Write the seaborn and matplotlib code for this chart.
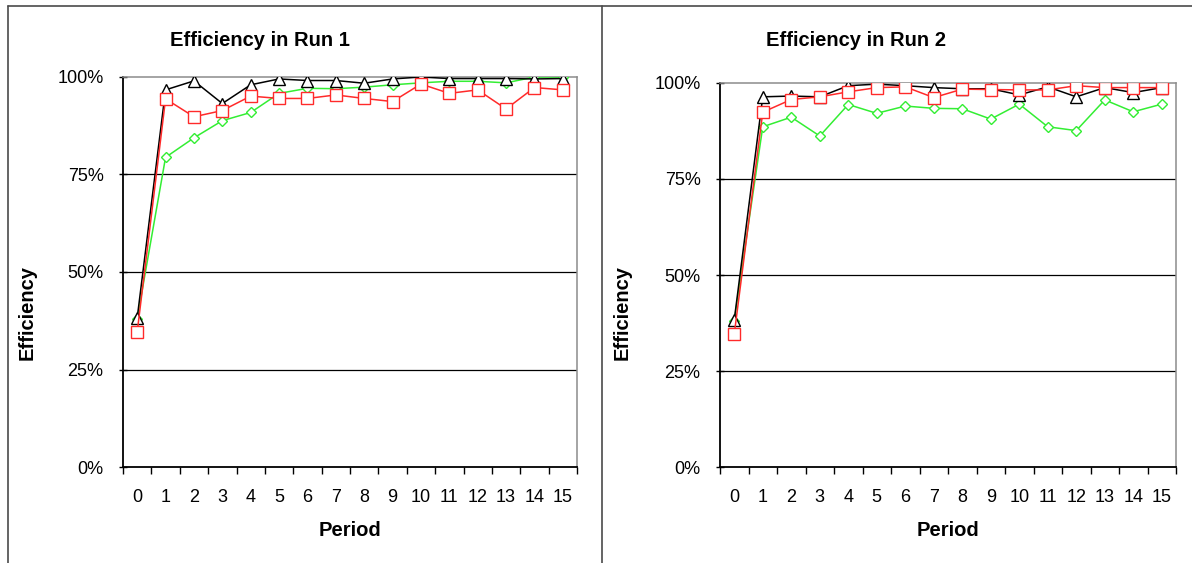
import matplotlib
matplotlib.use("Agg")
import matplotlib.pyplot as plt
import seaborn as sns
import pandas as pd
from matplotlib.lines import Line2D

# ---- data ----
periods = list(range(16))

run1_black = [38.2, 96.7, 99.0, 93.2, 98.0, 99.5, 99.1, 99.1, 98.4, 99.5, 100.0, 99.6, 99.6, 99.6, 99.5, 99.6]
run1_green = [38.0, 79.4, 84.4, 88.8, 90.9, 95.8, 97.1, 97.0, 97.4, 98.0, 98.5, 98.9, 98.9, 98.5, 100.0, 100.0]
run1_red   = [34.6, 94.4, 89.8, 91.4, 95.1, 94.5, 94.5, 95.4, 94.5, 93.7, 98.2, 95.8, 96.7, 91.8, 97.3, 96.7]

run2_black = [38.3, 96.4, 96.6, 96.4, 99.3, 99.7, 99.3, 98.8, 98.5, 98.5, 96.9, 99.0, 96.4, 98.8, 97.5, 98.8]
run2_green = [38.0, 88.6, 91.1, 86.2, 94.4, 92.1, 94.0, 93.4, 93.3, 90.6, 94.5, 88.6, 87.6, 95.6, 92.5, 94.5]
run2_red   = [34.6, 92.4, 95.7, 96.4, 97.7, 98.8, 99.0, 96.2, 98.4, 98.3, 98.2, 98.2, 99.3, 98.8, 98.8, 98.8]

y_ticks = [0, 25, 50, 75, 100]
y_tick_labels = ["0%", "25%", "50%", "75%", "100%"]
titles = ["Efficiency in Run 1", "Efficiency in Run 2"]

BLACK = "#000000"
GREEN = "#33ee33"
RED = "#ff2a2a"
FONT = ["Liberation Sans", "DejaVu Sans"]

sns.set_style("white")
plt.rcParams["font.family"] = FONT
plt.rcParams["text.color"] = "black"

W, H = 1192, 563
fig = plt.figure(figsize=(W / 100, H / 100), dpi=100)
fig.patch.set_facecolor("white")

ax1 = fig.add_axes([123 / W, 96 / H, 454 / W, 390 / H])
ax2 = fig.add_axes([720 / W, 96 / H, 456 / W, 384 / H])

runs = [
    (ax1, run1_black, run1_green, run1_red),
    (ax2, run2_black, run2_green, run2_red),
]

for ax, black, green, red in runs:
    df = pd.DataFrame({"Period": periods, "black": black, "green": green, "red": red})
    series = [
        ("green", GREEN, "D", 5.5, 3),
        ("black", BLACK, "^", 8, 4),
        ("red", RED, "s", 8.3, 5),
    ]
    for col, color, marker, ms, z in series:
        sns.lineplot(data=df, x="Period", y=col, ax=ax, color=color, linewidth=1.1,
                     marker=marker, markersize=ms, markerfacecolor="white",
                     markeredgecolor=color, markeredgewidth=1.0, zorder=z)

    ax.set_xlim(-0.5, 15.5)
    ax.set_ylim(0, 100)
    ax.set_xlabel("")
    ax.set_ylabel("")

    for g in [25, 50, 75]:
        ax.axhline(g, color="black", linewidth=0.9, zorder=1)

    ax.set_xticks(periods)
    ax.set_xticklabels([str(p) for p in periods])
    ax.set_xticks([p - 0.5 for p in periods] + [15.5], minor=True)
    ax.tick_params(axis="x", which="major", length=0, pad=16, labelsize=13, colors="black")
    ax.tick_params(axis="x", which="minor", length=5, width=1, direction="out", color="black", bottom=True)

    ax.set_yticks(y_ticks)
    ax.set_yticklabels(y_tick_labels)
    ax.tick_params(axis="y", which="major", length=6, width=1, direction="inout",
                   pad=11, labelsize=13, colors="black", left=True)

    for side in ["left", "bottom"]:
        ax.spines[side].set_color("black")
        ax.spines[side].set_linewidth(1.3)
    for side in ["top", "right"]:
        ax.spines[side].set_color("#8c8c8c")
        ax.spines[side].set_linewidth(1.1)
    ax.set_facecolor("white")

# titles and axis labels
label_kw = dict(ha="center", va="center", fontsize=14.5, fontweight="bold", color="black")
fig.text(260 / W, 1 - 41 / H, titles[0], **label_kw)
fig.text(856 / W, 1 - 41 / H, titles[1], **label_kw)
fig.text(350 / W, 1 - 530 / H, "Period", **label_kw)
fig.text(948 / W, 1 - 530 / H, "Period", **label_kw)
fig.text(27 / W, 1 - 312 / H, "Efficiency", rotation=90, **label_kw)
fig.text(622 / W, 1 - 312 / H, "Efficiency", rotation=90, **label_kw)

# chart frames
frame_kw = dict(color="#4a4a4a", linewidth=1.2, transform=fig.transFigure)
top = 1 - 5.7 / H
fig.add_artist(Line2D([8 / W, 1], [top, top], **frame_kw))
fig.add_artist(Line2D([8 / W, 8 / W], [0, top], **frame_kw))
fig.add_artist(Line2D([601.7 / W, 601.7 / W], [0, top], **frame_kw))

fig.savefig("out.png", dpi=100, facecolor="white")
